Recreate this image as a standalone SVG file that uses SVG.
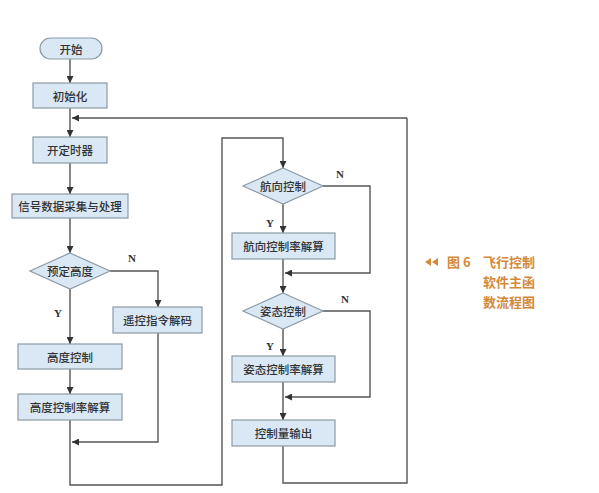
<svg xmlns="http://www.w3.org/2000/svg" width="599" height="493" viewBox="0 0 599 493">
<defs>
<style>
.box{fill:#d9e8f4;stroke:#8c9aa6;stroke-width:1.2}
.t{font-family:"Noto Sans CJK SC","Noto Sans",sans-serif;font-size:11.5px;font-weight:500;fill:#333;text-anchor:middle;dominant-baseline:central}
.yn{font-family:"Liberation Serif",serif;font-size:11px;font-weight:bold;fill:#333;text-anchor:middle;dominant-baseline:central}
.ln{fill:none;stroke:#555;stroke-width:1.4}
.cap{font-family:"Noto Sans CJK SC","Noto Sans",sans-serif;font-size:13px;font-weight:bold;fill:#d4893a}
</style>
<marker id="ar" viewBox="0 0 10 10" refX="10" refY="5" markerWidth="7" markerHeight="7" markerUnits="userSpaceOnUse" orient="auto">
<path d="M0,0 L10,5 L0,10 z" fill="#333"/>
</marker>
</defs>
<rect width="599" height="493" fill="#fff"/>
<g id="connectors">
<path class="ln" d="M70,59 V83" marker-end="url(#ar)"/>
<path class="ln" d="M70,108 V137" marker-end="url(#ar)"/>
<path class="ln" d="M407,118 H72" marker-end="url(#ar)"/>
<path class="ln" d="M70,163 V194" marker-end="url(#ar)"/>
<path class="ln" d="M70,218 V253" marker-end="url(#ar)"/>
<path class="ln" d="M110,271 H158 V307" marker-end="url(#ar)"/>
<path class="ln" d="M70,289 V344" marker-end="url(#ar)"/>
<path class="ln" d="M70,369 V394" marker-end="url(#ar)"/>
<path class="ln" d="M158,333 V442 H72" marker-end="url(#ar)"/>
<path class="ln" d="M70,420 V485 H222 V138 H283 V168" marker-end="url(#ar)"/>
<path class="ln" d="M283,204 V233" marker-end="url(#ar)"/>
<path class="ln" d="M323,186 H370 V273 H285" marker-end="url(#ar)"/>
<path class="ln" d="M283,259 V293" marker-end="url(#ar)"/>
<path class="ln" d="M283,329 V356" marker-end="url(#ar)"/>
<path class="ln" d="M323,311 H370 V397 H285" marker-end="url(#ar)"/>
<path class="ln" d="M283,382 V420" marker-end="url(#ar)"/>
<path class="ln" d="M283,446 V483 H407 V118"/>
<text class="yn" x="132" y="258">N</text>
<text class="yn" x="58" y="313">Y</text>
<text class="yn" x="340" y="174">N</text>
<text class="yn" x="270" y="223">Y</text>
<text class="yn" x="345" y="299">N</text>
<text class="yn" x="270" y="346">Y</text>
</g>
<g id="start"><rect class="box" x="40" y="38" width="62" height="21" rx="10.5"/><text class="t" x="71" y="48.5">开始</text></g>
<g id="init"><rect class="box" x="33" y="83" width="74" height="25"/><text class="t" x="70" y="95.5">初始化</text></g>
<g id="timer"><rect class="box" x="33" y="137" width="74" height="26"/><text class="t" x="70" y="150">开定时器</text></g>
<g id="signal"><rect class="box" x="12" y="194" width="116" height="24"/><text class="t" x="70" y="206">信号数据采集与处理</text></g>
<g id="alt-dec"><polygon class="box" points="70,253 110,271 70,289 30,271"/><text class="t" x="70" y="271">预定高度</text></g>
<g id="remote"><rect class="box" x="113" y="307" width="89" height="26"/><text class="t" x="157.5" y="320">遥控指令解码</text></g>
<g id="alt-ctrl"><rect class="box" x="18" y="344" width="104" height="25"/><text class="t" x="70" y="356.5">高度控制</text></g>
<g id="alt-solve"><rect class="box" x="18" y="394" width="104" height="26"/><text class="t" x="70" y="407">高度控制率解算</text></g>
<g id="head-dec"><polygon class="box" points="283,168 323,186 283,204 243,186"/><text class="t" x="283" y="186">航向控制</text></g>
<g id="head-solve"><rect class="box" x="232" y="233" width="103" height="26"/><text class="t" x="283.5" y="246">航向控制率解算</text></g>
<g id="att-dec"><polygon class="box" points="283,293 323,311 283,329 243,311"/><text class="t" x="283" y="311">姿态控制</text></g>
<g id="att-solve"><rect class="box" x="232" y="356" width="103" height="26"/><text class="t" x="283.5" y="369">姿态控制率解算</text></g>
<g id="output"><rect class="box" x="232" y="420" width="103" height="26"/><text class="t" x="283.5" y="433">控制量输出</text></g>
<g id="caption">
<path d="M425,262 l6,-4 v8 z M432,262 l6,-4 v8 z" fill="#d4893a"/>
<text class="cap" x="447" y="267">图 6</text>
<text class="cap" x="483" y="267">飞行控制</text>
<text class="cap" x="483" y="287">软件主函</text>
<text class="cap" x="483" y="307">数流程图</text>
</g>
</svg>
